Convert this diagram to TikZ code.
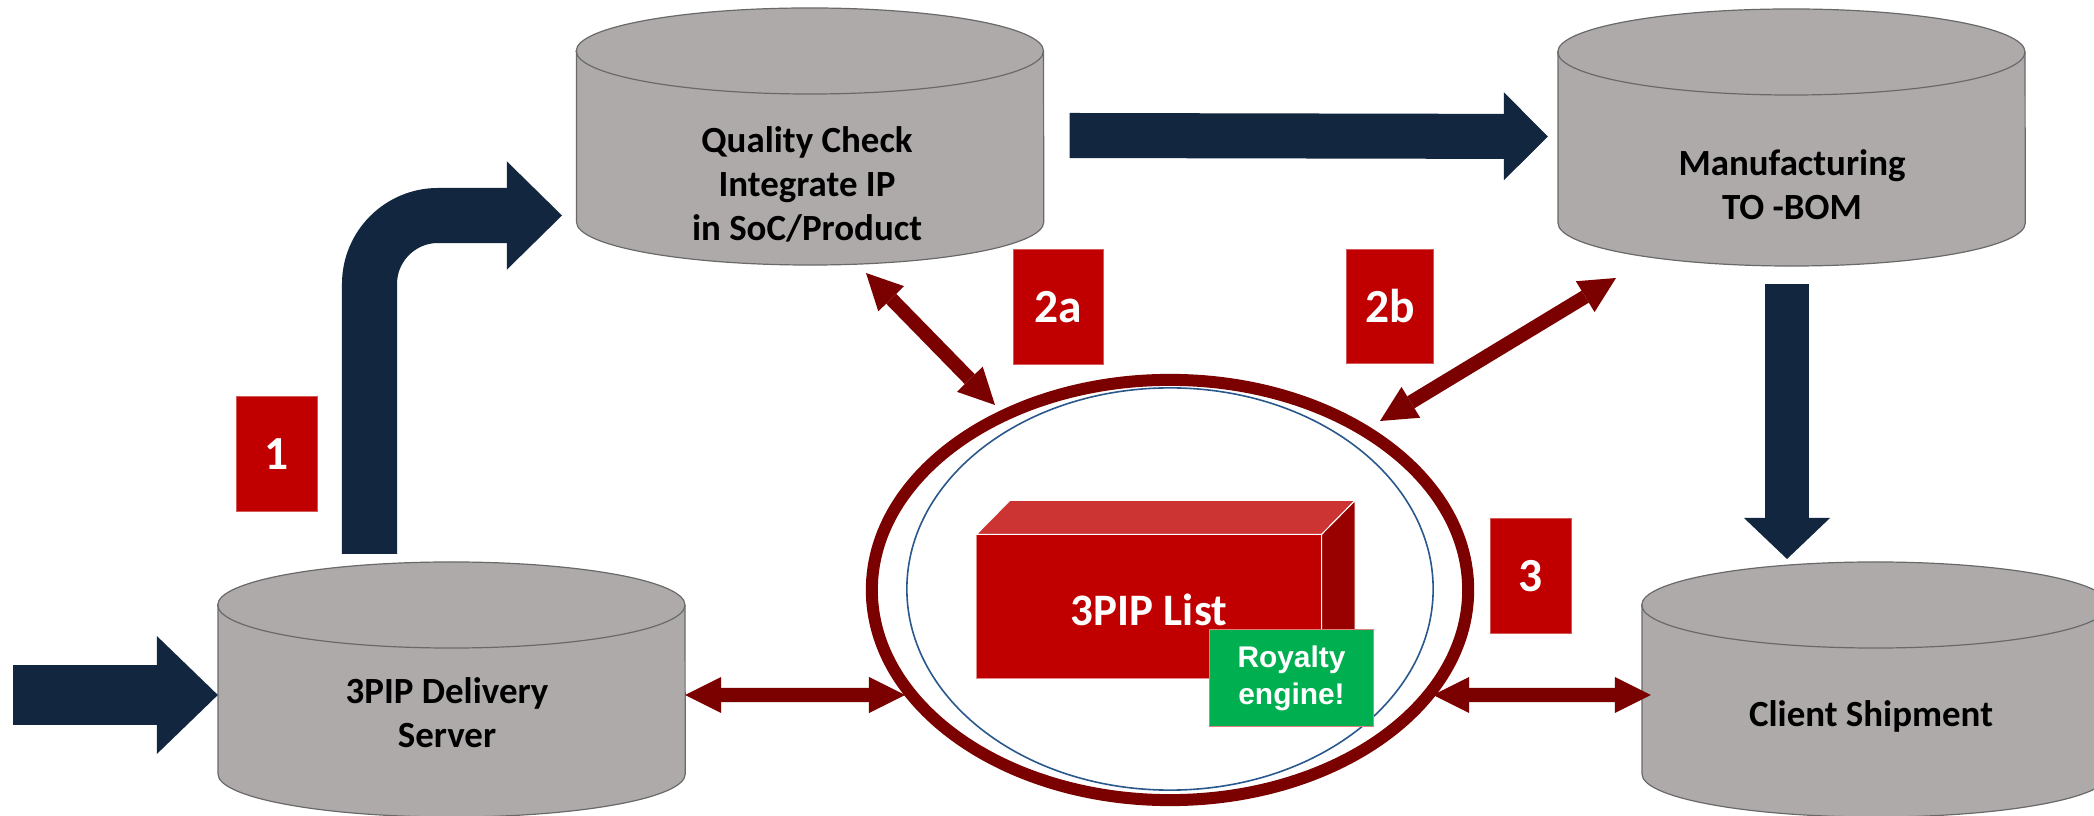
\documentclass[tikz,border=0pt]{standalone}
\usepackage{fontspec}
\setmainfont{Carlito}
\newfontfamily\arialfont{Liberation Sans}
\usetikzlibrary{shapes.geometric,arrows.meta,calc}

\definecolor{navy}{RGB}{18,38,64}
\definecolor{maroon}{RGB}{123,0,0}
\definecolor{tagred}{RGB}{192,0,0}
\definecolor{dbgray}{RGB}{174,170,170}
\definecolor{dbedge}{RGB}{105,105,105}
\definecolor{ringblue}{RGB}{42,88,140}
\definecolor{royal}{RGB}{0,176,80}
\definecolor{boxtop}{RGB}{204,51,51}
\definecolor{boxside}{RGB}{153,0,0}

\tikzset{
  dbfill/.style={fill=dbgray, draw=dbedge, line width=0.012cm},
  dbarea/.style={rectangle, minimum width=4.67cm, minimum height=2.55cm, inner sep=0pt, outer sep=0pt},
  dbtext/.style={align=center, font=\fontsize{10.5}{12.5}\selectfont\bfseries, text=black, inner sep=0pt},
  tag/.style={fill=tagred, draw=tagred!65!white, line width=0.01cm, inner sep=0pt,
    text=white, font=\fontsize{13.5}{16}\selectfont\bfseries},
  navyflow/.style n args={3}{draw=navy, line width=#1,
    -{Triangle[length=#2 0 0, width=#3 0 0, line width=0pt]}},
  redtip/.tip={Triangle[length=0.36cm 0 0, width=0.36cm 0 0, line width=0pt]},
  redtwin/.style={draw=maroon, line width=0.14cm, redtip-redtip},
}

% storage drum: name, centre x, top y, bottom y
\newcommand{\dbnode}[4]{%
  \filldraw[dbfill] (#2-233.5,#3+43) -- (#2-233.5,#4-43)
    arc[start angle=180, end angle=360, x radius=2.335cm, y radius=0.43cm]
    -- (#2+233.5,#3+43)
    arc[start angle=0, end angle=180, x radius=2.335cm, y radius=0.43cm] -- cycle;
  \draw[dbfill, fill=none] (#2+233.5,#3+43)
    arc[start angle=0, end angle=-180, x radius=2.335cm, y radius=0.43cm];
  \node[dbarea] (#1) at (#2,{(#3+#4)/2}) {};
}

\begin{document}
\begin{tikzpicture}[x=0.01cm, y=-0.01cm]
\useasboundingbox (0,0) rectangle (2094,816);
\clip (0,0) rectangle (2094,816);

% storage drums
\dbnode{qc}{810}{8}{265}
\dbnode{mf}{1791.5}{9}{266}
\dbnode{dv}{451.5}{562}{817}
\dbnode{cs}{1875.5}{562}{817}

\node[dbtext] (qctext) at (807,184) {Quality Check\\Integrate IP\\in SoC/Product};
\node[dbtext] (mftext) at (1792,185) {Manufacturing\\TO -BOM};
\node[dbtext] (dvtext) at (447,713) {3PIP Delivery\\Server};
\node[dbtext, anchor=base] (cstext) at (1871,726) {Client Shipment};

% central register
\node[ellipse, draw=maroon, line width=0.12cm, minimum width=5.96cm,
  minimum height=4.2cm, inner sep=0pt] (ring) at (1170,590) {};
\node[ellipse, draw=ringblue, line width=0.016cm, minimum width=5.26cm,
  minimum height=4.02cm, inner sep=0pt] (innerring) at (1170,589) {};

\node[rectangle, fill=tagred, draw=tagred!45!white, line width=0.01cm,
  minimum width=3.44cm, minimum height=1.43cm, inner sep=0pt, text=white,
  text height=11pt, text depth=0pt,
  font=\fontsize{12.8}{15}\selectfont\bfseries] (list) at (1149,606.5) {3PIP List};
\filldraw[fill=boxtop, draw=white, line width=0.01cm]
  (list.north west) -- ++(33.5,-34) -- ($(list.north east)+(33.5,-34)$)
  -- (list.north east) -- cycle;
\filldraw[fill=boxside, draw=white, line width=0.01cm]
  (list.north east) -- ++(33.5,-34) -- ++(0,143) -- (list.south east) -- cycle;

\node[rectangle, fill=royal, draw=tagred!50!white, line width=0.01cm,
  minimum width=1.63cm, minimum height=0.96cm, inner sep=0pt, align=center,
  text=white, font=\arialfont\bfseries\fontsize{8.5}{10.5}\selectfont]
  (royalty) at (1291.5,678) {Royalty\\engine!};

% step tags
\node[tag, minimum width=0.80cm, minimum height=1.14cm] (t1) at (277,454) {1};
\node[tag, minimum width=0.89cm, minimum height=1.14cm] (t2a) at (1058.5,307) {2a};
\node[tag, minimum width=0.86cm, minimum height=1.13cm] (t2b) at (1390,306.5) {2b};
\node[tag, minimum width=0.80cm, minimum height=1.14cm] (t3) at (1531,576) {3};

% main flow
\coordinate (src) at (13,695);
\draw[navyflow={0.60cm}{0.61cm}{1.18cm}] (src) -- (src -| dv.west);

\coordinate (bendstart) at (369.5,554);
\coordinate (bendend) at (562,215.5);
\draw[navyflow={0.55cm}{0.55cm}{1.08cm}, rounded corners=0.685cm]
  (bendstart) |- (bendend);

\draw[navyflow={0.45cm}{0.44cm}{0.88cm}]
  ([xshift=0.26cm, yshift=0.01cm]qc.east) -- ([xshift=-0.10cm, yshift=0.01cm]mf.west);

\coordinate (downstart) at (1787,284);
\coordinate (downend) at (1787,559);
\draw[navyflow={0.44cm}{0.41cm}{0.86cm}] (downstart) -- (downend);

% exchanges with the register
\coordinate (ringW) at (905,695);
\coordinate (ringE) at (1433,695);
\coordinate (ringNW) at (995,405);
\coordinate (ringNE) at (1380,421);
\coordinate (qcport) at (866,273);
\coordinate (mfport) at (1616,278);
\draw[redtwin] ([yshift=-0.055cm]dv.east) -- (ringW);
\draw[redtwin] (ringE) -- ([xshift=0.09cm, yshift=-0.055cm]cs.west);
\draw[redtwin] (qcport) -- (ringNW);
\draw[redtwin] (ringNE) -- (mfport);
\end{tikzpicture}
\end{document}
